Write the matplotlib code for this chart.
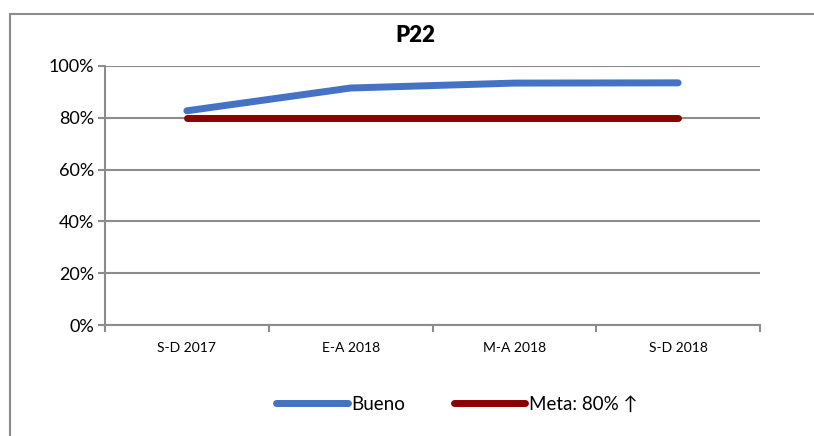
import matplotlib
matplotlib.use("Agg")
import matplotlib.pyplot as plt
from matplotlib.patches import Rectangle
from matplotlib.lines import Line2D

categories = ["S-D 2017", "E-A 2018", "M-A 2018", "S-D 2018"]
bueno = [82.7, 91.5, 93.4, 93.5]
meta = [80, 80, 80, 80]
yticks = [0, 20, 40, 60, 80, 100]

plt.rcParams['font.family'] = ['Lato', 'DejaVu Sans']

W, H = 814, 436
fig = plt.figure(figsize=(W/100, H/100), dpi=100)
fig.patches.append(Rectangle((10/W, -0.1), 1.2, 1 - 14/H + 0.1, transform=fig.transFigure,
                             fill=False, edgecolor='#8c8c8c', linewidth=1.5))

ax = fig.add_axes([105/W, 1 - 325/H, (760-105)/W, (325-66)/H])
x = list(range(len(categories)))
ax.plot(x, bueno, color='#4472C4', linewidth=5, solid_capstyle='round', zorder=3, label='Bueno')
ax.plot(x, meta, color='#8B0000', linewidth=5, solid_capstyle='round', zorder=3, label='Meta: 80% ↑')

ax.set_xlim(-0.5, len(categories) - 0.5)
ax.set_ylim(0, 100)
ax.set_yticks(yticks)
ax.set_yticklabels([f"{v}%" for v in yticks], fontsize=13)
ax.set_xticks(x)
ax.set_xticklabels(categories, fontsize=10)
ax.tick_params(axis='x', length=0, pad=12)
ax.set_xticks([i - 0.5 for i in range(len(categories) + 1)], minor=True)
ax.tick_params(axis='x', which='minor', length=5, color='#8c8c8c', width=1.5)
ax.tick_params(axis='y', length=5, color='#8c8c8c', width=1.5, pad=3)
ax.grid(axis='y', color='#8c8c8c', linewidth=1.5)
ax.set_axisbelow(True)
for s in ['top', 'right']:
    ax.spines[s].set_visible(False)
for s in ['left', 'bottom']:
    ax.spines[s].set_color('#8c8c8c')
    ax.spines[s].set_linewidth(1.5)

fig.text(415/W, 1 - 36/H, "P22", ha='center', va='center', fontsize=16, fontweight='heavy')

handles = [Line2D([0], [0], color='#4472C4', linewidth=5, solid_capstyle='round'),
           Line2D([0], [0], color='#8B0000', linewidth=5, solid_capstyle='round')]
fig.legend(handles, ['Bueno', 'Meta: 80% ↑'], loc='center', bbox_to_anchor=(457/W, 1 - 404/H),
           ncol=2, frameon=False, fontsize=13.5, handlelength=3.8, handletextpad=0.2, columnspacing=2.6)

fig.savefig("out.png", dpi=100)
